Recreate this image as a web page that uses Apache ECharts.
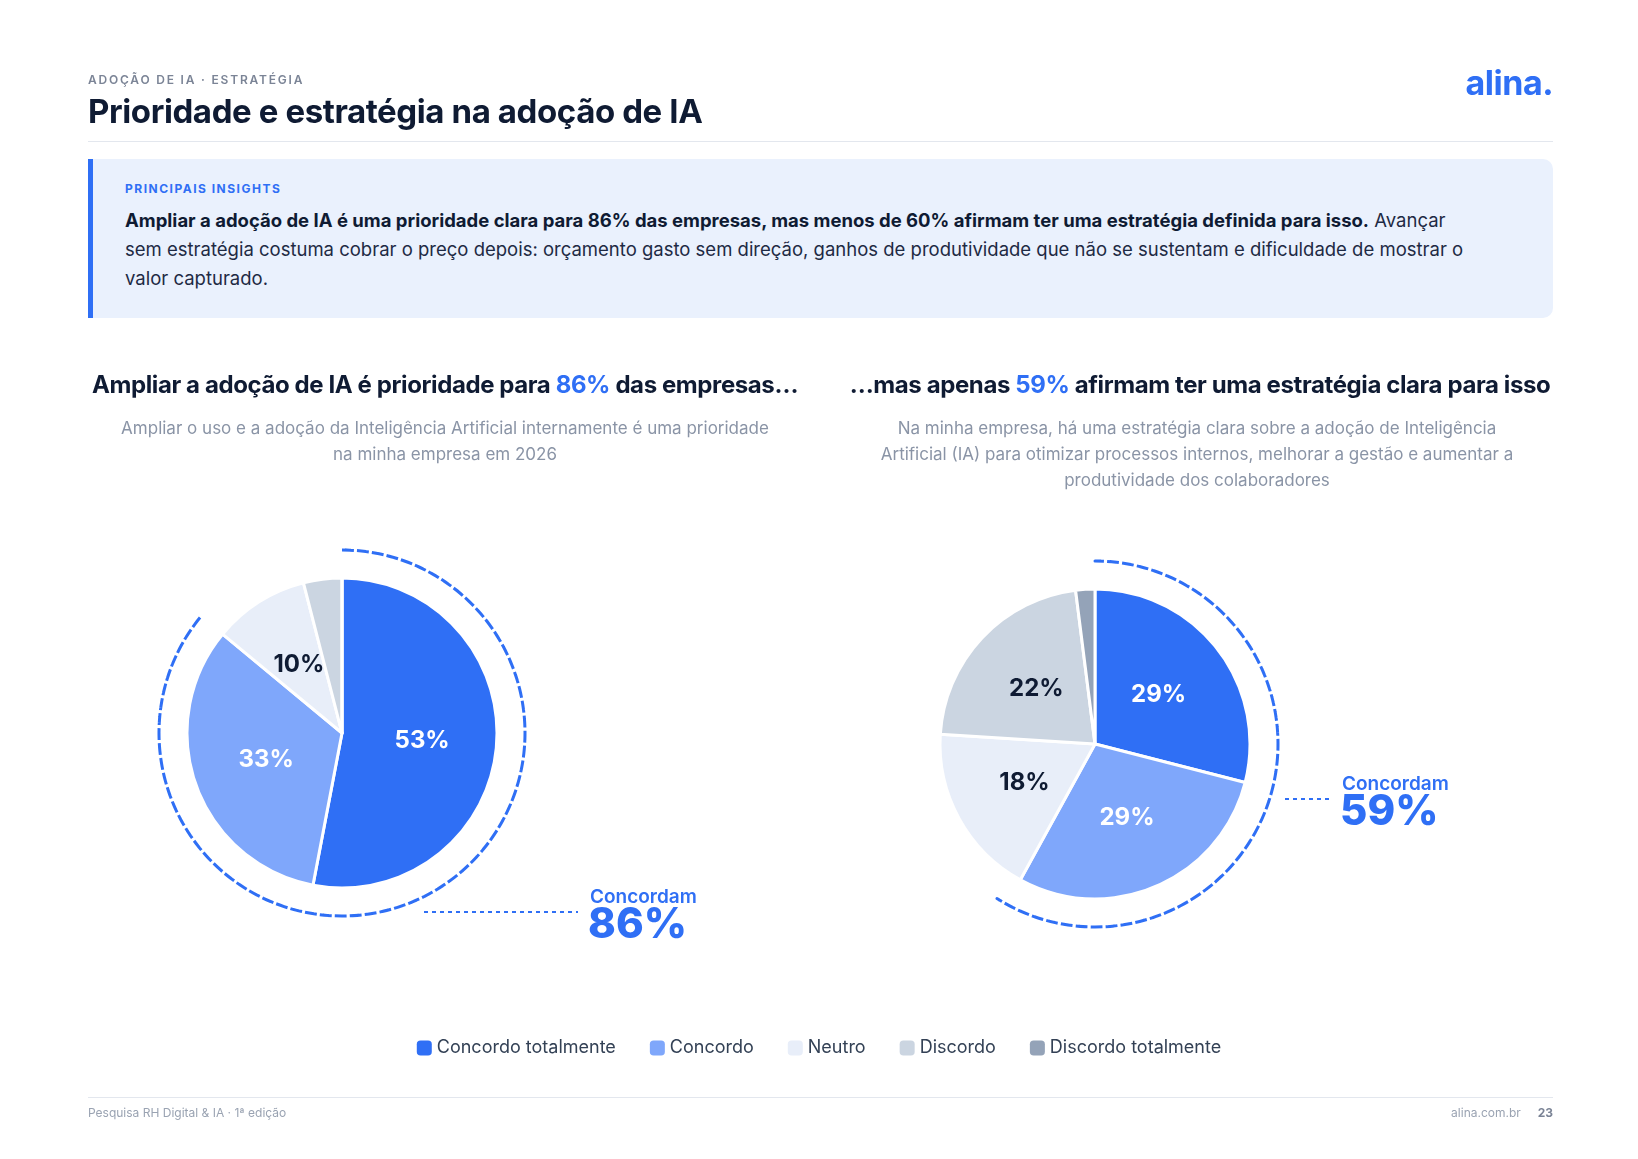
<!DOCTYPE html>
<html><head><meta charset="utf-8">
<script src="https://cdn.jsdelivr.net/npm/echarts@6/dist/echarts.min.js"></script>
<style>
body{margin:0;background:#fff;font-family:Inter,"Noto Sans",sans-serif;}
#wrap{position:relative;width:1638px;height:1159px;}
#main{position:absolute;left:0;top:0;width:1638px;height:1159px;}
.t{position:absolute;color:#0f1b33;}
</style></head><body>
<div id="wrap">
<div id="main"></div>
<div class="t" style="left:88px;top:72px;font-size:12px;letter-spacing:1.8px;color:#7b8496;font-weight:600">ADOÇÃO DE IA · ESTRATÉGIA</div>
<div class="t" style="left:88px;top:91px;font-size:33px;font-weight:700;letter-spacing:-0.4px">Prioridade e estratégia na adoção de IA</div>
<div class="t" style="right:85px;top:62px;font-size:34px;font-weight:700;color:#2f6ff5;letter-spacing:-0.5px">alina.</div>
<div style="position:absolute;left:88px;top:141px;width:1465px;height:1px;background:#e3e7ee"></div>
<div style="position:absolute;left:88px;top:159px;width:1465px;height:159px;background:#eaf1fd;border-left:5px solid #2f6ff5;border-radius:0 10px 10px 0;box-sizing:border-box"></div>
<div class="t" style="left:125px;top:181px;font-size:12px;letter-spacing:1.5px;color:#2f6ff5;font-weight:700">PRINCIPAIS INSIGHTS</div>
<div class="t" style="left:125px;top:206px;width:1360px;font-size:18.5px;line-height:29px;color:#1e2a44"><b style="color:#0f1b33">Ampliar a adoção de IA é uma prioridade clara para 86% das empresas, mas menos de 60% afirmam ter uma estratégia definida para isso.</b> Avançar sem estratégia costuma cobrar o preço depois: orçamento gasto sem direção, ganhos de produtividade que não se sustentam e dificuldade de mostrar o valor capturado.</div>
<div class="t" style="left:45px;width:800px;top:370px;text-align:center;font-size:24px;font-weight:700;letter-spacing:-0.4px">Ampliar a adoção de IA é prioridade para <span style="color:#2f6ff5">86%</span> das empresas…</div>
<div class="t" style="left:800px;width:800px;top:370px;text-align:center;font-size:24px;font-weight:700;letter-spacing:-0.4px">…mas apenas <span style="color:#2f6ff5">59%</span> afirmam ter uma estratégia clara para isso</div>
<div class="t" style="left:115px;width:660px;top:415px;text-align:center;font-size:17px;line-height:26px;color:#8a94a6">Ampliar o uso e a adoção da Inteligência Artificial internamente é uma prioridade na minha empresa em 2026</div>
<div class="t" style="left:867px;width:660px;top:415px;text-align:center;font-size:17px;line-height:26px;color:#8a94a6">Na minha empresa, há uma estratégia clara sobre a adoção de Inteligência Artificial (IA) para otimizar processos internos, melhorar a gestão e aumentar a produtividade dos colaboradores</div>
<div style="position:absolute;left:88px;top:1097px;width:1465px;height:1px;background:#e3e7ee"></div>
<div class="t" style="left:88px;top:1105px;font-size:12px;color:#9aa3b2">Pesquisa RH Digital &amp; IA · 1ª edição</div>
<div class="t" style="right:85px;top:1105px;font-size:12px;color:#9aa3b2">alina.com.br &nbsp;&nbsp;&nbsp; <b style="color:#7b8496">23</b></div>
</div>
<script>
var categories = ["Concordo totalmente", "Concordo", "Neutro", "Discordo", "Discordo totalmente"];
var colors = ["#2f6ff5", "#7fa7fb", "#e8eef9", "#cbd5e1", "#94a3b8"];
var priorityValues = [53, 33, 10, 4, 0];
var strategyValues = [29, 29, 18, 22, 2];
var priorityAgree = 86;
var strategyAgree = 59;

var chart = echarts.init(document.getElementById("main"));

function pieData(values) {
  return values.map(function (v, i) {
    return {
      name: categories[i], value: v,
      itemStyle: { color: colors[i] },
      label: { show: v >= 8, color: i < 2 ? "#fff" : "#0f1b33" }
    };
  });
}
function pieSeries(values, center) {
  return {
    type: "pie", center: center, radius: [0, 155], startAngle: 90,
    silent: true, animation: false,
    itemStyle: { borderColor: "#fff", borderWidth: 3 },
    label: { position: "inside", formatter: "{c}%", fontSize: 24, fontWeight: 700, fontFamily: "Inter" },
    labelLine: { show: false },
    data: pieData(values)
  };
}
function ringSeries(agree, center) {
  return {
    type: "pie", center: center, radius: [183, 183], startAngle: 90,
    silent: true, animation: false, label: { show: false },
    data: [
      { value: agree, itemStyle: { color: "none", borderColor: "#2f6ff5", borderWidth: 3, borderType: [9, 6] } },
      { value: 100 - agree, itemStyle: { color: "none", borderWidth: 0 } }
    ]
  };
}
function legendSeries() {
  return categories.map(function (c, i) {
    return { type: "pie", name: c, data: [], showEmptyCircle: false, emptyCircleStyle: { color: "none" }, itemStyle: { color: colors[i] } };
  });
}

chart.setOption({
  legend: {
    data: categories, bottom: 97, left: "center", itemWidth: 15, itemHeight: 15, itemGap: 34,
    icon: "roundRect", selectedMode: false,
    textStyle: { fontSize: 18, color: "#334155", fontFamily: "Inter" }
  },
  graphic: [
    { type: "line", shape: { x1: 424, y1: 912, x2: 578, y2: 912 }, style: { stroke: "#2f6ff5", lineWidth: 2, lineDash: [4, 4] } },
    { type: "text", left: 590, top: 888, style: { text: "Concordam", fill: "#2f6ff5", font: "600 19px Inter" } },
    { type: "text", left: 588, top: 904, style: { text: priorityAgree + "%", fill: "#2f6ff5", font: "800 42px Inter" } },
    { type: "line", shape: { x1: 1285, y1: 799, x2: 1331, y2: 799 }, style: { stroke: "#2f6ff5", lineWidth: 2, lineDash: [4, 4] } },
    { type: "text", left: 1342, top: 775, style: { text: "Concordam", fill: "#2f6ff5", font: "600 19px Inter" } },
    { type: "text", left: 1340, top: 791, style: { text: strategyAgree + "%", fill: "#2f6ff5", font: "800 42px Inter" } }
  ],
  series: [
    pieSeries(priorityValues, [342, 733]),
    ringSeries(priorityAgree, [342, 733]),
    pieSeries(strategyValues, [1095, 744]),
    ringSeries(strategyAgree, [1095, 744])
  ].concat(legendSeries())
});
</script>
</body></html>
